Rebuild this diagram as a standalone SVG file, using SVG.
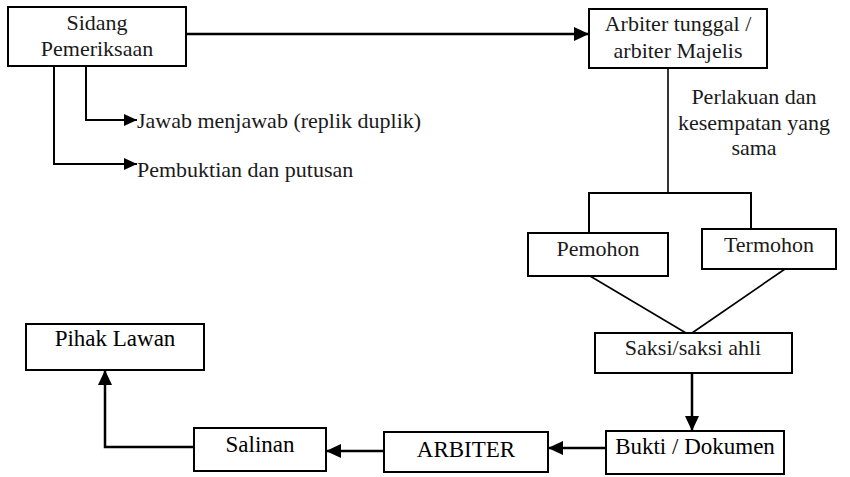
<svg xmlns="http://www.w3.org/2000/svg" width="850" height="477" viewBox="0 0 850 477" font-family="Liberation Serif, Tinos, DejaVu Serif, serif">
  <style>
    .box { fill: #ffffff; stroke: #000000; stroke-width: 2; }
    .lbl { font-family: 'Liberation Serif', Tinos, 'DejaVu Serif', serif; font-size: 22px; fill: #1a1a1a; text-anchor: middle; }
    .lbl-tnr { font-family: 'Liberation Serif', Tinos, 'DejaVu Serif', serif; font-size: 23px; fill: #000000; text-anchor: middle; }
    .note { font-family: 'Liberation Serif', Tinos, 'DejaVu Serif', serif; font-size: 22px; fill: #1a1a1a; }
    .thick { fill: none; stroke: #000000; stroke-width: 2.5; }
    .mid { fill: none; stroke: #000000; stroke-width: 2; }
    .thin { fill: none; stroke: #000000; stroke-width: 1.6; }
  </style>
  <defs>
    <marker id="arrow" markerUnits="userSpaceOnUse" markerWidth="15" markerHeight="14" refX="15" refY="7" orient="auto">
      <path d="M0,0 L15,7 L0,14 Z" fill="#000000"/>
    </marker>
    <marker id="arrow-sm" markerUnits="userSpaceOnUse" markerWidth="13" markerHeight="12" refX="13" refY="6" orient="auto">
      <path d="M0,0 L13,6 L0,12 Z" fill="#000000"/>
    </marker>
  </defs>

  <rect width="850" height="477" fill="#ffffff"/>

  <!-- connectors -->
  <g id="connectors">
    <path class="thick" d="M186,34 H589" marker-end="url(#arrow)"/>
    <path class="mid" d="M86,66 V120 H137" marker-end="url(#arrow-sm)"/>
    <path class="mid" d="M54,66 V164 H137" marker-end="url(#arrow-sm)"/>
    <path class="thin" d="M668,68 V193"/>
    <path class="mid" d="M589,233 V193 H751 V229"/>
    <path class="thin" d="M590,276 L686,333"/>
    <path class="thin" d="M785,269 L692,333"/>
    <path class="thick" d="M692,373 V431" marker-end="url(#arrow)"/>
    <path class="thick" d="M606,448 H548" marker-end="url(#arrow)"/>
    <path class="thick" d="M384,451 H326" marker-end="url(#arrow)"/>
    <path class="thick" d="M194,447 H105 V370" marker-end="url(#arrow)"/>
  </g>

  <!-- nodes -->
  <g id="sidang">
    <rect class="box" x="8" y="7" width="178" height="59"/>
    <text class="lbl" x="97" y="30">Sidang</text>
    <text class="lbl" x="97" y="56">Pemeriksaan</text>
  </g>

  <g id="arbiter-tunggal">
    <rect class="box" x="589" y="9" width="178" height="59"/>
    <text class="lbl" x="678" y="31">Arbiter tunggal /</text>
    <text class="lbl" x="678" y="58">arbiter Majelis</text>
  </g>

  <g id="jawab">
    <text class="note" x="137" y="128">Jawab menjawab (replik duplik)</text>
  </g>

  <g id="pembuktian">
    <text class="note" x="137" y="177">Pembuktian dan putusan</text>
  </g>

  <g id="perlakuan">
    <text class="lbl" x="754" y="104">Perlakuan dan</text>
    <text class="lbl" x="754" y="130">kesempatan yang</text>
    <text class="lbl" x="754" y="155">sama</text>
  </g>

  <g id="pemohon">
    <rect class="box" x="528" y="233" width="140" height="43"/>
    <text class="lbl" x="598" y="256">Pemohon</text>
  </g>

  <g id="termohon">
    <rect class="box" x="702" y="229" width="134" height="40"/>
    <text class="lbl" x="769" y="252">Termohon</text>
  </g>

  <g id="saksi">
    <rect class="box" x="595" y="333" width="197" height="40"/>
    <text class="lbl" x="693" y="355">Saksi/saksi ahli</text>
  </g>

  <g id="bukti">
    <rect class="box" x="606" y="431" width="178" height="43"/>
    <text class="lbl-tnr" x="695" y="454">Bukti / Dokumen</text>
  </g>

  <g id="arbiter">
    <rect class="box" x="384" y="432" width="164" height="40"/>
    <text class="lbl-tnr" x="466" y="457">ARBITER</text>
  </g>

  <g id="salinan">
    <rect class="box" x="194" y="428" width="132" height="43"/>
    <text class="lbl-tnr" x="260" y="452">Salinan</text>
  </g>

  <g id="pihak-lawan">
    <rect class="box" x="26" y="324" width="178" height="46"/>
    <text class="lbl-tnr" x="115" y="346">Pihak Lawan</text>
  </g>
</svg>
